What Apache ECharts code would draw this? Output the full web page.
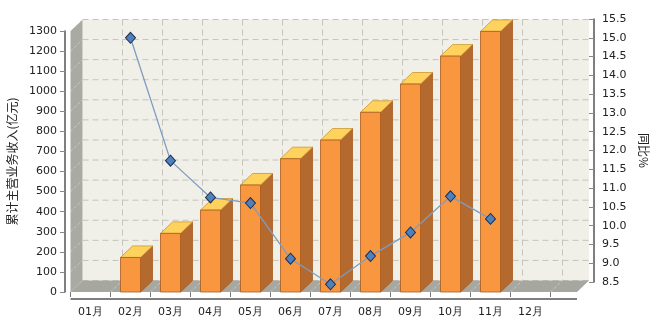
<!DOCTYPE html>
<html>
<head>
<meta charset="utf-8">
<script src="https://cdn.jsdelivr.net/npm/echarts@6/dist/echarts.min.js"></script>
<style>
html,body{margin:0;padding:0;background:#fff;}
#c{width:651px;height:327px;}
</style>
</head>
<body>
<div id="c"></div>
<script>
const categories = ['01月','02月','03月','04月','05月','06月','07月','08月','09月','10月','11月','12月'];
const revenue = [null, 172, 292, 408, 533, 664, 757, 895, 1036, 1175, 1298, null];
const growth = [null, 15.0, 11.73, 10.75, 10.60, 9.12, 8.44, 9.19, 9.82, 10.78, 10.18, null];
const leftAxis = {min: 0, max: 1300, interval: 100, name: '累计主营业务收入(亿元)'};
const rightAxis = {min: 8.5, max: 15.5, interval: 0.5, name: '同比%'};

const DX = 12, DY = 11.5, EXT = 26.5, AXIS_DROP = 7;
const numFont = 'DejaVu Sans';
const cjkFont = '"Noto Sans CJK SC"';

const chart = echarts.init(document.getElementById('c'), null, {renderer: 'canvas'});

function renderFrame(params, api) {
  const cs = params.coordSys;
  const bw = api.size([1, 0])[0];
  const x0 = cs.x, x1 = cs.x + cs.width + EXT;
  const yTop = cs.y, yBot = cs.y + cs.height;
  const children = [];
  children.push({type: 'rect', shape: {x: x0 + DX, y: yTop - DY, width: x1 - x0, height: yBot - yTop},
    style: {fill: '#F0F0E9'}});
  for (let v = leftAxis.min; v <= leftAxis.max; v += leftAxis.interval) {
    const y = api.coord([0, v])[1];
    children.push({type: 'line', shape: {x1: x0 + DX, y1: y - DY, x2: x1 + DX, y2: y - DY},
      style: {stroke: '#C4C4BC', lineWidth: 1, lineDash: [6, 4]}});
  }
  for (let k = 1; k <= categories.length; k++) {
    const bx = api.coord([k - 1, 0])[0] + bw / 2;
    children.push({type: 'line', shape: {x1: bx + DX, y1: yTop - DY, x2: bx + DX, y2: yBot - DY},
      style: {stroke: '#C4C4BC', lineWidth: 1, lineDash: [6, 4]}});
  }
  children.push({type: 'polygon', shape: {points: [[x0, yBot], [x0, yTop], [x0 + DX, yTop - DY], [x0 + DX, yBot - DY]]},
    style: {fill: '#A9AAA2'}});
  for (let v = leftAxis.min + leftAxis.interval; v <= leftAxis.max; v += leftAxis.interval) {
    const y = api.coord([0, v])[1];
    children.push({type: 'line', shape: {x1: x0, y1: y, x2: x0 + DX, y2: y - DY},
      style: {stroke: 'rgba(255,255,255,0.35)', lineWidth: 1, lineDash: [3, 2]}});
  }
  children.push({type: 'polygon', shape: {points: [[x0, yBot], [x1, yBot], [x1 + DX, yBot - DY], [x0 + DX, yBot - DY]]},
    style: {fill: '#A6A79F'}});
  for (let k = 1; k <= categories.length; k++) {
    const bx = api.coord([k - 1, 0])[0] + bw / 2;
    children.push({type: 'line', shape: {x1: bx, y1: yBot, x2: bx + DX, y2: yBot - DY},
      style: {stroke: 'rgba(255,255,255,0.4)', lineWidth: 1, lineDash: [3, 2]}});
  }
  children.push({type: 'line', shape: {x1: x0, y1: yBot + AXIS_DROP, x2: x1, y2: yBot + AXIS_DROP},
    style: {stroke: '#555', lineWidth: 1.5}});
  return {type: 'group', children: children};
}

function renderBar(params, api) {
  const idx = api.value(0), v = api.value(1);
  const top = api.coord([idx, v]);
  const bot = api.coord([idx, 0]);
  const w = api.size([1, 0])[0] * 0.5;
  const xl = top[0] - w / 2, xr = top[0] + w / 2;
  const edge = '#A85A1E';
  return {type: 'group', children: [
    {type: 'polygon', shape: {points: [[xr, top[1]], [xr + DX, top[1] - DY], [xr + DX, bot[1] - DY], [xr, bot[1]]]},
      style: {fill: '#B4692F', stroke: edge, lineWidth: 0.8}},
    {type: 'polygon', shape: {points: [[xl, top[1]], [xl + DX, top[1] - DY], [xr + DX, top[1] - DY], [xr, top[1]]]},
      style: {fill: '#FFD25E', stroke: '#C9962E', lineWidth: 0.8}},
    {type: 'rect', shape: {x: xl, y: top[1], width: w, height: bot[1] - top[1]},
      style: {fill: '#F8973F', stroke: edge, lineWidth: 0.8}}
  ]};
}

const barData = [];
revenue.forEach((v, i) => { if (v !== null) barData.push([i, v]); });

chart.setOption({
  animation: false,
  backgroundColor: '#fff',
  grid: [
    {left: 70.5, top: 31, width: 480, height: 261, containLabel: false, outerBoundsMode: 'none'},
    {left: 70.5, top: 19, width: 480, height: 263, containLabel: false, outerBoundsMode: 'none'}
  ],
  xAxis: [
    {type: 'category', gridIndex: 0, data: categories, boundaryGap: true, offset: AXIS_DROP,
      axisLine: {show: false},
      axisTick: {show: true, length: 5, lineStyle: {color: '#777'}},
      axisLabel: {margin: 8, color: '#222', fontFamily: numFont, fontSize: 11}},
    {type: 'category', gridIndex: 1, data: categories, boundaryGap: true, show: false}
  ],
  yAxis: [
    {type: 'value', gridIndex: 0, position: 'left', offset: 5.5,
      min: leftAxis.min, max: leftAxis.max, interval: leftAxis.interval,
      name: leftAxis.name, nameLocation: 'middle', nameGap: 40,
      nameTextStyle: {fontFamily: cjkFont, fontSize: 12, color: '#222'},
      axisLine: {show: true, lineStyle: {color: '#555', width: 1.5}},
      axisTick: {show: true, length: 5, lineStyle: {color: '#888'}},
      axisLabel: {margin: 8, color: '#222', fontFamily: numFont, fontSize: 11,
        formatter: v => String(v)},
      splitLine: {show: false}},
    {type: 'value', gridIndex: 1, position: 'right', offset: 43.5,
      min: rightAxis.min, max: rightAxis.max, interval: rightAxis.interval,
      name: rightAxis.name, nameLocation: 'middle', nameGap: 42, nameRotate: -90,
      nameTextStyle: {fontFamily: cjkFont, fontSize: 12, color: '#222'},
      axisLine: {show: true, lineStyle: {color: '#555', width: 1.5}},
      axisTick: {show: true, inside: true, length: 5, lineStyle: {color: '#888'}},
      axisLabel: {margin: 8, color: '#222', fontFamily: numFont, fontSize: 11,
        formatter: v => v.toFixed(1)},
      splitLine: {show: false}}
  ],
  series: [
    {type: 'custom', xAxisIndex: 0, yAxisIndex: 0, data: [[0, 0]], renderItem: renderFrame, z: 1, silent: true},
    {type: 'custom', xAxisIndex: 0, yAxisIndex: 0, data: barData, renderItem: renderBar, z: 2},
    {type: 'line', xAxisIndex: 1, yAxisIndex: 1, data: growth, z: 5, clip: false,
      symbol: 'diamond', symbolSize: [10, 11],
      lineStyle: {color: '#7F9CC0', width: 1.3},
      itemStyle: {color: '#4F81BD', borderColor: '#1F2F4F', borderWidth: 1}}
  ]
});
</script>
</body>
</html>
